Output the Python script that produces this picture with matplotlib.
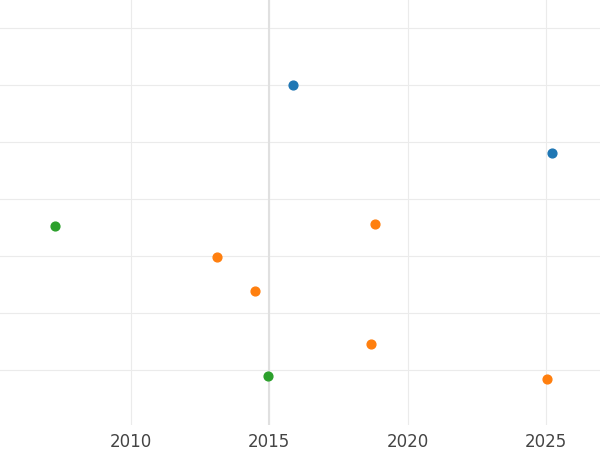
import matplotlib
matplotlib.use("Agg")
import matplotlib.pyplot as plt

blue_x = [2015.87, 2025.2]
blue_y = [6.0, 4.81]
green_x = [2007.26, 2014.95]
green_y = [3.53, 0.89]
orange_x = [2013.1, 2014.48, 2018.82, 2018.66, 2025.05]
orange_y = [2.98, 2.39, 3.56, 1.46, 0.84]
xticks = [2010, 2015, 2020, 2025]

fig = plt.figure(figsize=(6, 4.5), dpi=100)
ax = fig.add_axes([0, 0.056, 1, 0.944])
ax.scatter(blue_x, blue_y, color="#1f77b4", s=40, zorder=3)
ax.scatter(green_x, green_y, color="#2ca02c", s=40, zorder=3)
ax.scatter(orange_x, orange_y, color="#ff7f0e", s=40, zorder=3)
ax.axvline(2015, color="#e0e0e0", lw=1.5, zorder=1)
ax.set_xlim(2005.27, 2026.95)
ax.set_ylim(0.035, 7.49)
ax.set_xticks(xticks)
ax.set_yticks(range(1, 8))
ax.set_yticklabels([])
ax.grid(True, color="#ebebeb", lw=0.8)
ax.set_axisbelow(True)
for s in ax.spines.values():
    s.set_visible(False)
ax.tick_params(length=0, labelsize=12, labelcolor="#444444", left=False, pad=6)
fig.savefig("out.png")
